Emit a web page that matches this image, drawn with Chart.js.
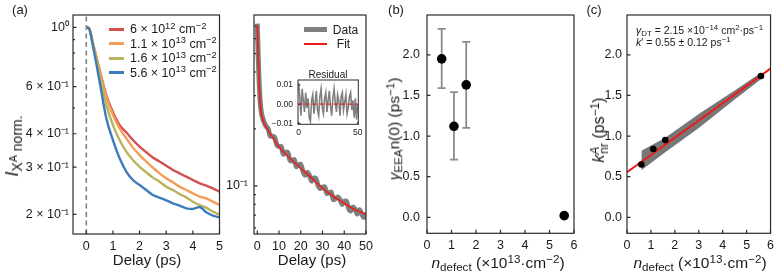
<!DOCTYPE html>
<html>
<head>
<meta charset="utf-8">
<script src="https://cdn.jsdelivr.net/npm/chart.js@4.4.1/dist/chart.umd.min.js"></script>
<style>
  body { margin: 0; background: #fff; }
  #wrap { position: relative; width: 779px; height: 273px; overflow: hidden; font-family: "Liberation Sans", Arial, sans-serif; color: #1a1a1a; }
  #wrap canvas { position: absolute; left: 0; top: 0; }
  .lbl { position: absolute; white-space: nowrap; line-height: 1; transform: translate(-50%, -50%); }
  .rot { transform: translate(-50%, -50%) rotate(-90deg); }
  .lft { transform: translate(0, -50%); }
  .sw { position: absolute; }
  sub, sup { font-size: 0.75em; line-height: 0; position: relative; vertical-align: baseline; }
  sup { top: -0.45em; }
  sub { top: 0.3em; }
</style>
</head>
<body>
<div id="wrap">
  <canvas id="chartA" width="779" height="273"></canvas>
  <canvas id="chartLong" width="779" height="273"></canvas>
  <canvas id="chartResid" width="779" height="273"></canvas>
  <canvas id="chartB" width="779" height="273"></canvas>
  <canvas id="chartC" width="779" height="273"></canvas>

  <div class="lbl" style="left:20px;top:9px;font-size:13px">(a)</div>
  <div class="lbl" style="left:396px;top:9px;font-size:13px">(b)</div>
  <div class="lbl" style="left:594px;top:9px;font-size:13px">(c)</div>

  <div class="lbl" style="left:147px;top:259px;font-size:15px">Delay (ps)</div>
  <div class="lbl" style="left:312px;top:259px;font-size:15px">Delay (ps)</div>
  <div class="lbl" style="left:498px;top:263px;font-size:15.5px"><i>n</i><sub>defect</sub> (×10<sup>13</sup>·cm<sup>−2</sup>)</div>
  <div class="lbl" style="left:700px;top:263px;font-size:15.5px"><i>n</i><sub>defect</sub> (×10<sup>13</sup>·cm<sup>−2</sup>)</div>

  <div class="lbl rot" style="left:12px;top:146px;font-size:18px"><i>I</i><sub style="font-size:0.78em">X<sup>A</sup> norm.</sub></div>
  <div class="lbl rot" style="left:394px;top:129px;font-size:15.5px"><i>γ</i><sub>EEA</sub>n(0) (ps<sup>−1</sup>)</div>
  <div class="lbl rot" style="left:599px;top:130px;font-size:16px"><i>k</i><sup><i>A</i></sup><sub style="margin-left:-0.6em">nr</sub> (ps<sup>−1</sup>)</div>

  <!-- legend (a) -->
  <div class="sw" style="left:109px;top:27.5px;width:15px;height:3px;background:#d3504f"></div>
  <div class="sw" style="left:109px;top:42px;width:15px;height:3px;background:#f59d56"></div>
  <div class="sw" style="left:109px;top:56.5px;width:15px;height:3px;background:#bab35c"></div>
  <div class="sw" style="left:109px;top:71px;width:15px;height:3px;background:#3d7cbb"></div>
  <div class="lbl lft" style="left:130px;top:29px;font-size:12.5px">6 × 10<sup>12</sup> cm<sup>−2</sup></div>
  <div class="lbl lft" style="left:130px;top:43.5px;font-size:12.5px">1.1 × 10<sup>13</sup> cm<sup>−2</sup></div>
  <div class="lbl lft" style="left:130px;top:58px;font-size:12.5px">1.6 × 10<sup>13</sup> cm<sup>−2</sup></div>
  <div class="lbl lft" style="left:130px;top:72.5px;font-size:12.5px">5.6 × 10<sup>13</sup> cm<sup>−2</sup></div>

  <!-- legend long delay -->
  <div class="sw" style="left:304px;top:27px;width:23px;height:5px;background:#7f7f7f"></div>
  <div class="sw" style="left:304px;top:43px;width:23px;height:1.6px;background:#ef1a1a"></div>
  <div class="lbl" style="left:345.5px;top:29.5px;font-size:12px">Data</div>
  <div class="lbl" style="left:343.5px;top:44px;font-size:12px">Fit</div>
  <div class="lbl" style="left:328px;top:75px;font-size:10px">Residual</div>

  <!-- fit parameters (c) -->
  <div class="lbl lft" style="left:636px;top:30px;font-size:10.5px"><i>γ</i><sub>DT</sub> = 2.15 ×10<sup>−14</sup> cm<sup>2</sup>·ps<sup>−1</sup></div>
  <div class="lbl lft" style="left:636px;top:41.5px;font-size:10.5px"><i>k</i>′ = 0.55 ± 0.12 ps<sup>−1</sup></div>
</div>

<script>
// panel (a): normalised X^A signal, first 5 ps, four defect densities
const delayA = [0, 0.1, 0.25, 0.5, 0.75, 1, 1.25, 1.5, 1.75, 2, 2.25, 2.5, 2.75, 3, 3.25, 3.5, 3.75, 4, 4.25, 4.5, 4.75, 5];
const ia6e12 = [1.000, 0.991, 0.871, 0.693, 0.558, 0.481, 0.431, 0.405, 0.379, 0.358, 0.341, 0.326, 0.315, 0.304, 0.293, 0.2845, 0.2765, 0.2687, 0.2611, 0.2560, 0.2501, 0.2430];
const ia11e13 = [1.000, 0.991, 0.871, 0.687, 0.551, 0.470, 0.419, 0.385, 0.355, 0.333, 0.315, 0.299, 0.2845, 0.2726, 0.2634, 0.2537, 0.2465, 0.2396, 0.2328, 0.2294, 0.2229, 0.2167];
const ia16e13 = [1.000, 0.991, 0.864, 0.663, 0.513, 0.431, 0.379, 0.343, 0.319, 0.301, 0.287, 0.2742, 0.2649, 0.2537, 0.2465, 0.2382, 0.2314, 0.2229, 0.2167, 0.2118, 0.2046, 0.1999];
const ia56e13 = [1.000, 0.991, 0.847, 0.626, 0.457, 0.379, 0.324, 0.289, 0.2687, 0.2574, 0.2465, 0.2361, 0.2307, 0.2255, 0.2198, 0.2154, 0.2106, 0.2094, 0.2130, 0.2034, 0.1977, 0.1949];
const xTicksA = [0, 1, 2, 3, 4, 5];
const yTicksA = [0.2, 0.3, 0.4, 0.5, 0.6, 0.7, 0.8, 0.9, 1];
const yTickTextA = ['2 × 10⁻¹', '3 × 10⁻¹', '4 × 10⁻¹', '', '6 × 10⁻¹', '', '', '', '10⁰'];

// long delay trace with fit
const delayLong = [0, 0.5, 1, 1.5, 2, 2.5, 3, 4, 5, 6, 7, 8, 9, 10, 11, 12, 13, 14, 15, 16, 17, 18, 19, 20, 21, 22, 23, 24, 25, 26, 27, 28, 29, 30, 31, 32, 33, 34, 35, 36, 37, 38, 39, 40, 41, 42, 43, 44, 45, 46, 47, 48, 49, 50];
const dataLong = [0.72, 0.46, 0.325, 0.265, 0.240, 0.228, 0.219, 0.207, 0.2004, 0.1832, 0.1832, 0.1803, 0.1648, 0.1614, 0.1614, 0.1472, 0.1503, 0.1503, 0.1368, 0.1355, 0.1377, 0.1265, 0.1294, 0.1297, 0.1194, 0.1138, 0.1180, 0.1135, 0.1062, 0.1102, 0.1089, 0.1002, 0.0968, 0.0986, 0.0989, 0.0912, 0.0920, 0.0927, 0.0847, 0.0857, 0.0875, 0.0849, 0.0798, 0.0828, 0.0830, 0.0762, 0.0736, 0.0773, 0.0753, 0.0710, 0.0748, 0.0713, 0.0681, 0.0718];
const fitT = [0, 0.5, 1, 1.5, 2, 2.5, 3, 4, 5, 7.5, 10, 15, 20, 25, 30, 35, 40, 45, 50];
const fitLong = [0.708, 0.454, 0.321, 0.262, 0.237, 0.226, 0.217, 0.206, 0.196, 0.177, 0.161, 0.140, 0.124, 0.110, 0.0972, 0.0879, 0.0810, 0.0747, 0.0709];
const xTicksLong = [0, 10, 20, 30, 40, 50];
const yTicksLong = [0.06, 0.07, 0.08, 0.09, 0.1, 0.2, 0.3, 0.4, 0.5, 0.6, 0.7];
const yTickTextLong = ['', '', '', '', '10⁻¹', '', '', '', '', '', ''];

// residual inset
const residT = [0, 1, 2, 3, 4, 5, 6, 7, 8, 9, 10, 11, 12, 13, 14, 15, 16, 17, 18, 19, 20, 21, 22, 23, 24, 25, 26, 27, 28, 29, 30, 31, 32, 33, 34, 35, 36, 37, 38, 39, 40, 41, 42, 43, 44, 45, 46, 47, 48, 49, 50];
const residual = [0.011, 0.004, -0.006, 0.008, 0.002, -0.004, 0.006, -0.002, 0.003, -0.007, -0.009, 0.002, 0.005, -0.005, 0.001, 0.007, -0.003, -0.006, 0.004, 0.008, -0.002, -0.005, 0.003, 0.006, -0.004, 0.002, 0.007, -0.001, -0.006, 0.003, 0.008, 0.001, -0.004, 0.005, 0.002, -0.006, 0.004, 0.006, -0.003, 0.001, 0.005, -0.005, -0.002, 0.004, 0.006, -0.003, 0.002, -0.007, 0.003, -0.008, 0.000];

// panels (b) and (c)
const nDefect = [0.6, 1.1, 1.6, 5.6];
const gammaEEA = [1.95, 1.12, 1.63, 0.02];
const gammaLo = [1.59, 0.71, 1.10, 0.02];
const gammaHi = [2.32, 1.54, 2.16, 0.02];
const kNR = [0.65, 0.84, 0.95, 1.74];
const fitN = [0, 6];
const fitK = [0.555, 1.83];
const bandN = [0.6, 1.6, 3.0, 4.5, 5.6];
const bandHi = [0.82, 0.98, 1.27, 1.56, 1.78];
const bandLo = [0.58, 0.80, 1.10, 1.45, 1.70];
const ticksN = [0, 1, 2, 3, 4, 5, 6];
const ticksRate = [0, 0.5, 1, 1.5, 2];
const ticksRateText = ['0.0', '0.5', '1.0', '1.5', '2.0'];

const W = 779, H = 273;
const tickFont = { family: '"Liberation Sans", Arial, sans-serif', size: 12.5 };
const smallFont = { family: '"Liberation Sans", Arial, sans-serif', size: 8.5 };

function xy(xs, ys) {
    return xs.map((x, i) => ({ x: x, y: ys[i] }));
}

// frame on all four sides plus inward ticks, like the matplotlib style
const frame = {
    id: 'frame',
    beforeDraw(chart, args, opts) {
        if (!opts.fill) return;
        const a = chart.chartArea;
        chart.ctx.save();
        chart.ctx.fillStyle = opts.fill;
        chart.ctx.fillRect(a.left, a.top, a.right - a.left, a.bottom - a.top);
        chart.ctx.restore();
    },
    afterDraw(chart, args, opts) {
        const { ctx, chartArea: a } = chart;
        const major = opts.tick || 3.5, minor = opts.minorTick || 2;
        const xs = chart.scales.x, ys = chart.scales.y;
        ctx.save();
        ctx.strokeStyle = '#2b2b2b';
        ctx.lineWidth = opts.width || 1.2;
        ctx.beginPath();
        xs.ticks.forEach(t => {
            const p = xs.getPixelForValue(t.value);
            ctx.moveTo(p, a.bottom);
            ctx.lineTo(p, a.bottom - (t.minor ? minor : major));
        });
        ys.ticks.forEach(t => {
            const p = ys.getPixelForValue(t.value);
            ctx.moveTo(a.left, p);
            ctx.lineTo(a.left + (t.minor ? minor : major), p);
        });
        ctx.stroke();
        ctx.strokeRect(a.left, a.top, a.right - a.left, a.bottom - a.top);
        ctx.restore();
    }
};

// gray error bars for panel (b)
const errorBars = {
    id: 'errorBars',
    beforeDatasetsDraw(chart) {
        const { ctx } = chart, xs = chart.scales.x, ys = chart.scales.y;
        ctx.save();
        ctx.strokeStyle = '#8c8c8c';
        ctx.lineWidth = 1.8;
        nDefect.forEach((n, i) => {
            if (gammaHi[i] === gammaLo[i]) return;
            const x = xs.getPixelForValue(n);
            const y1 = ys.getPixelForValue(gammaLo[i]), y2 = ys.getPixelForValue(gammaHi[i]);
            ctx.beginPath();
            ctx.moveTo(x, y1); ctx.lineTo(x, y2);
            ctx.moveTo(x - 4, y1); ctx.lineTo(x + 4, y1);
            ctx.moveTo(x - 4, y2); ctx.lineTo(x + 4, y2);
            ctx.stroke();
        });
        ctx.restore();
    }
};

function scaleCfg(kind, min, max, values, texts, pad, font) {
    return {
        type: kind, min: min, max: max, bounds: 'data',
        grid: { display: false, drawTicks: false },
        border: { display: false },
        afterBuildTicks: s => {
            s.ticks = values.map((v, i) => ({ value: v, minor: texts ? texts[i] === '' : false }));
        },
        ticks: {
            autoSkip: false, maxRotation: 0, padding: pad, color: '#1a1a1a', font: font || tickFont,
            callback: (v, i) => texts ? texts[i] : String(values[i])
        }
    };
}

// area = [left, top, right, bottom] of the plot box in page pixels;
// the axes boxes are stretched to reach the page edge so labels are not clipped
function baseOptions(area, x, y, frameOpts) {
    x.afterFit = s => { s.height = H - area[3] - 2; };
    y.afterFit = s => { s.width = area[0] - 2; };
    return {
        responsive: false, animation: false, events: [],
        layout: { padding: { left: 2, top: area[1], right: W - area[2], bottom: 2 } },
        plugins: { legend: { display: false }, tooltip: { enabled: false }, frame: frameOpts || {} },
        scales: { x: x, y: y }
    };
}

function lineSet(xs, ys, color, width, extra) {
    return Object.assign({
        data: xy(xs, ys), borderColor: color, backgroundColor: color,
        borderWidth: width, pointRadius: 0, fill: false
    }, extra || {});
}

// (a)
const yMinA = 0.1688, yMaxA = 1.1116;
new Chart(document.getElementById('chartA'), {
    type: 'line',
    data: {
        datasets: [
            lineSet(delayA, ia56e13, '#3d7cbb', 2.4, { cubicInterpolationMode: 'monotone' }),
            lineSet(delayA, ia16e13, '#bab35c', 2.4, { cubicInterpolationMode: 'monotone' }),
            lineSet(delayA, ia11e13, '#f59d56', 2.4, { cubicInterpolationMode: 'monotone' }),
            lineSet(delayA, ia6e12, '#d3504f', 2.4, { cubicInterpolationMode: 'monotone' }),
            lineSet([0, 0], [yMinA, yMaxA], '#808080', 1.6, { borderDash: [5, 3.5] })
        ]
    },
    options: baseOptions([73, 15, 219.5, 234],
        scaleCfg('linear', -0.5, 5, xTicksA, null, 5),
        scaleCfg('logarithmic', yMinA, yMaxA, yTicksA, yTickTextA, 4)),
    plugins: [frame]
});

// long delay
new Chart(document.getElementById('chartLong'), {
    type: 'line',
    data: {
        datasets: [
            lineSet(fitT, fitLong, '#ef1a1a', 1.6, { cubicInterpolationMode: 'monotone' }),
            lineSet(delayLong, dataLong, '#7f7f7f', 5, { tension: 0.3 })
        ]
    },
    options: baseOptions([254, 15, 366, 234],
        scaleCfg('linear', -1.5, 50, xTicksLong, null, 5),
        scaleCfg('logarithmic', 0.0557, 0.8003, yTicksLong, yTickTextLong, 6)),
    plugins: [frame]
});

// residual inset
new Chart(document.getElementById('chartResid'), {
    type: 'line',
    data: {
        datasets: [
            lineSet([0, 50], [0, 0], '#ef1a1a', 1.2, { borderDash: [4, 3] }),
            lineSet(residT, residual, '#808080', 1.6)
        ]
    },
    options: baseOptions([298, 80, 358.3, 124.3],
        scaleCfg('linear', -0.5, 50.5, [0, 50], null, 3, smallFont),
        scaleCfg('linear', -0.0105, 0.0126, [-0.01, 0, 0.01], ['−0.01', '0.00', '0.01'], 5, smallFont),
        { fill: '#fff', width: 1, tick: 2.5 }),
    plugins: [frame]
});

// (b)
new Chart(document.getElementById('chartB'), {
    type: 'line',
    data: {
        datasets: [
            lineSet(nDefect, gammaEEA, '#000', 0, { showLine: false, pointRadius: 4.8, pointBorderWidth: 0 })
        ]
    },
    options: baseOptions([427, 15, 574, 233.3],
        scaleCfg('linear', 0, 6, ticksN, null, 5),
        scaleCfg('linear', -0.197, 2.49, ticksRate, ticksRateText, 7)),
    plugins: [errorBars, frame]
});

// (c)
new Chart(document.getElementById('chartC'), {
    type: 'line',
    data: {
        datasets: [
            lineSet(nDefect, kNR, '#000', 0, { showLine: false, pointRadius: 3.3, pointBorderWidth: 0 }),
            lineSet(fitN, fitK, '#ef1a1a', 2),
            lineSet(bandN, bandHi, '#777', 0, { fill: '+1', backgroundColor: '#777' }),
            lineSet(bandN, bandLo, '#777', 0)
        ]
    },
    options: baseOptions([627, 15, 774, 233.3],
        scaleCfg('linear', 0, 6, ticksN, null, 5),
        scaleCfg('linear', -0.197, 2.49, ticksRate, ticksRateText, 5)),
    plugins: [frame]
});
</script>
</body>
</html>
